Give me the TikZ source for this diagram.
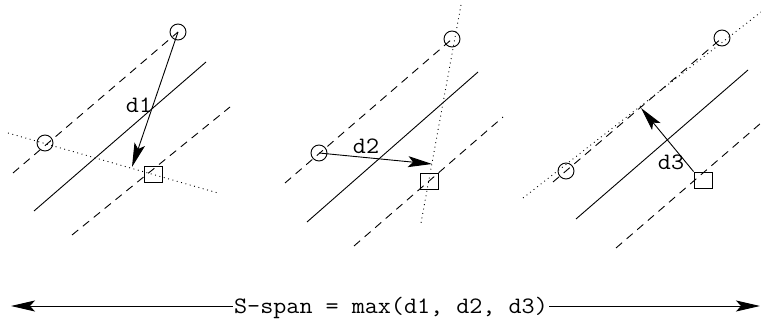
\documentclass[tikz,border=0pt]{standalone}
\usepackage{fontspec}
\setmonofont{Latin Modern Mono}[FakeStretch=1.08]
\usetikzlibrary{arrows.meta}
\tikzset{
  every picture/.style={x=1pt,y=-1pt},
  ln/.style={line width=0.9pt},
  dsh/.style={line width=0.9pt,dash pattern=on 8pt off 6pt},
  dtt/.style={line width=0.9pt,dash pattern=on 0.9pt off 3.6pt},
  pt/.style={circle,draw,line width=0.9pt,minimum size=16pt,inner sep=0pt},
  sq/.style={rectangle,draw,line width=0.9pt,minimum width=18pt,minimum height=16pt,inner sep=0pt},
  arr/.style={line width=0.9pt,-{Stealth[length=24pt,width=11pt,inset=5pt]}},
  lbl/.style={font=\ttfamily\fontsize{23.5}{23.5}\selectfont,inner sep=0pt}
}
\begin{document}
\begin{tikzpicture}
\useasboundingbox (0,0) rectangle (761,326);
% ---------- panel 1
\draw[ln] (34,211) -- (206,62);
\draw[dsh] (13,173) -- (178,32);
\draw[dsh] (72,235) -- (230,107);
\draw[dtt] (8,133) -- (218,193);
\node[pt] (c1a) at (178,32) {};
\node[pt] (c1b) at (45,143) {};
\node[sq] (s1) at (153,174) {};
\coordinate (t1) at (132,167);
\draw[arr] (c1a.center) -- (t1);
\node[lbl] (d1) at (139,105) {d1};
% ---------- panel 2
\draw[ln] (307,222) -- (478,72);
\draw[dsh] (285,183) -- (452,39);
\draw[dsh] (354,246) -- (503,117);
\draw[dtt] (461,5) -- (421,223);
\node[pt] (c2a) at (452,39) {};
\node[pt] (c2b) at (319,153) {};
\node[sq] (s2) at (429,181) {};
\coordinate (t2) at (432,164);
\draw[arr] (c2b.center) -- (t2);
\node[lbl] (d2) at (366,146) {d2};
% ---------- panel 3
\draw[ln] (576,219) -- (748,70);
\draw[dsh] (553,182) -- (722,38);
\draw[dsh] (616,248) -- (761,123);
\draw[dtt] (523,198) -- (761,12);
\node[pt] (c3a) at (722,38) {};
\node[pt] (c3b) at (566,171) {};
\node[sq] (s3) at (703,180) {};
\coordinate (t3) at (641,108);
\draw[arr] (s3.north west) -- (t3);
\node[lbl] (d3) at (671,162.5) {d3};
% ---------- bottom span
\node[lbl,anchor=base,inner sep=1pt] (span) at (391,313) {S-span = max(d1, d2, d3)};
\coordinate (L) at (11,306);
\coordinate (R) at (760,306);
\draw[arr] (span.west |- L) -- (L);
\draw[arr] (span.east |- R) -- (R);
\end{tikzpicture}
\end{document}
